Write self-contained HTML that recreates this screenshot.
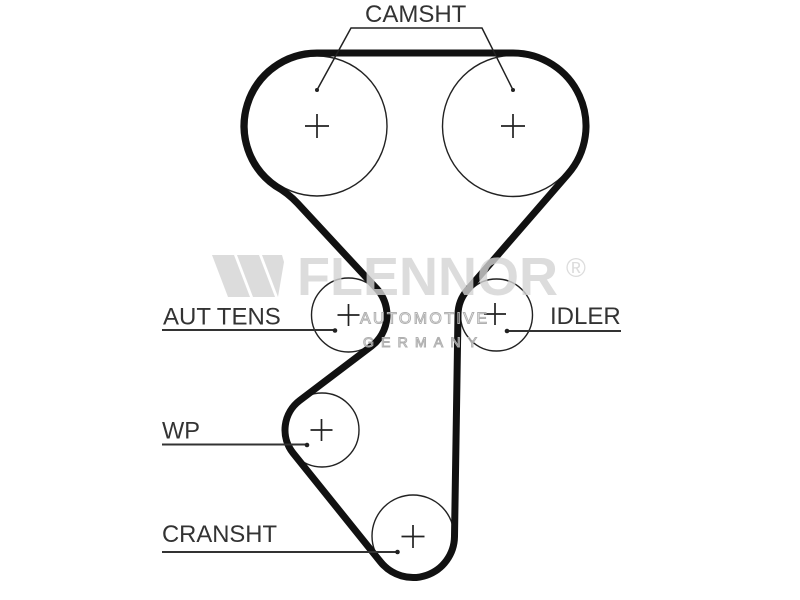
<!DOCTYPE html>
<html>
<head>
<meta charset="utf-8">
<style>
  html,body{margin:0;padding:0;background:#fff;}
  svg{display:block;}
  .lbl{font-family:"Liberation Sans",Arial,sans-serif;font-size:24px;fill:#333;}
</style>
</head>
<body>
<svg width="800" height="600" viewBox="0 0 800 600" xmlns="http://www.w3.org/2000/svg">
  <rect width="800" height="600" fill="#fff"/>

  <!-- pulleys (thin circles) -->
  <g fill="none" stroke="#222" stroke-width="1.4">
    <circle cx="317" cy="126" r="70"/>
    <circle cx="513" cy="126" r="70.5"/>
    <circle cx="348.5" cy="315" r="37"/>
    <circle cx="496.5" cy="315" r="36"/>
    <circle cx="322" cy="430" r="37"/>
    <circle cx="413" cy="536" r="41"/>
  </g>

  <!-- crosses -->
  <g stroke="#222" stroke-width="1.7" fill="none">
    <path d="M305 126 H329 M317 114 V138"/>
    <path d="M501 126 H525 M513 114 V138"/>
    <path d="M337.5 315 H359.5 M348.5 304 V326"/>
    <path d="M484 314 H506 M495 303 V325"/>
    <path d="M310.5 430 H332.5 M321.5 419 V441"/>
    <path d="M401.5 536.5 H424.5 M413 525 V548"/>
  </g>

  <!-- belt -->
  <path d="M 317 53 L 513 53
           A 73 73 0 0 1 568.14 173.84
           L 467.30 290.09
           A 38 38 0 0 0 458.0 314.4
           L 454.49 536.66
           A 41.5 41.5 0 0 1 380.65 562.0
           L 293.16 453.18
           A 37 37 0 0 1 299.67 400.50
           L 371.54 346.09
           A 39 39 0 0 0 375.5 287.4
           L 297.5 203.3
           Q 288 193 275.1 185.8
           A 73 73 0 0 1 317 53 Z"
        fill="none" stroke="#111" stroke-width="7" stroke-linejoin="round"/>

  <!-- CAMSHT bracket -->
  <g stroke="#222" stroke-width="1.5" fill="none">
    <path d="M317 90 L351 28 H482 L513 90"/>
  </g>
  <circle cx="317" cy="90" r="2" fill="#222"/>
  <circle cx="513" cy="90" r="2" fill="#222"/>
  <text class="lbl" x="365" y="22">CAMSHT</text>

  <!-- leaders -->
  <g stroke="#333" stroke-width="2" fill="none">
    <path d="M162 330 H335"/>
    <path d="M507 331 H621"/>
    <path d="M162 444.5 H307"/>
    <path d="M162 552 H397.5"/>
  </g>
  <g fill="#222">
    <circle cx="335" cy="330.5" r="2.3"/>
    <circle cx="507" cy="331" r="2.3"/>
    <circle cx="307" cy="445" r="2.3"/>
    <circle cx="397.5" cy="552" r="2.3"/>
  </g>

  <text class="lbl" x="163" y="324.5">AUT TENS</text>
  <text class="lbl" x="550" y="324">IDLER</text>
  <text class="lbl" x="162" y="438.5" textLength="38" lengthAdjust="spacingAndGlyphs">WP</text>
  <text class="lbl" x="162" y="542" textLength="115" lengthAdjust="spacingAndGlyphs">CRANSHT</text>

  <!-- watermark -->
  <g fill="rgb(211,211,211)" fill-opacity="0.8">
    <polygon points="212,255 234,255 250,297 228,297"/>
    <polygon points="237,255 259,255 275,297 253,297"/>
    <polygon points="262,255 282,255 284,262 278,297"/>
    <text x="297" y="295" font-family="Liberation Sans, Arial, sans-serif" font-weight="bold" font-size="54" textLength="261" lengthAdjust="spacingAndGlyphs">FLENNOR</text>
    <text x="566" y="277" font-family="Liberation Sans, Arial, sans-serif" font-size="27">®</text>
  </g>
  <g fill="none" stroke="#b0b0b0" stroke-width="1" font-family="Liberation Sans, Arial, sans-serif">
    <text x="360" y="323.5" font-size="16" textLength="127" lengthAdjust="spacing">AUTOMOTIVE</text>
    <text x="363" y="347" font-size="14" textLength="114" lengthAdjust="spacing">GERMANY</text>
  </g>
</svg>
</body>
</html>
